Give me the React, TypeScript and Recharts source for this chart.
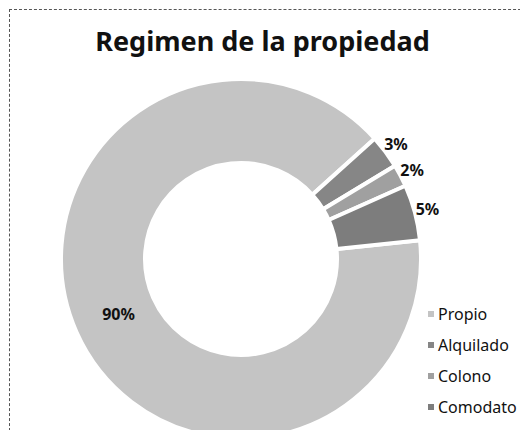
import React from 'react';
import { PieChart, Pie, Cell, Legend } from 'recharts';

const categories = ['Propio', 'Alquilado', 'Colono', 'Comodato'];
const shares = [90, 3, 2, 5];
const labels = ['90%', '3%', '2%', '5%'];
const COLORS = ['#c4c4c4', '#868686', '#a0a0a0', '#7d7d7d'];

const data = categories.map((name, i) => ({ name, value: shares[i], label: labels[i] }));

const RAD = Math.PI / 180;

const renderLabel = (props: any) => {
  const { cx, cy, midAngle, outerRadius, innerRadius, index } = props;
  const r = index === 0 ? (innerRadius + outerRadius) / 2 - 4 : outerRadius + 13;
  const x = cx + r * Math.cos(-midAngle * RAD);
  const y = cy + r * Math.sin(-midAngle * RAD);
  return (
    <text x={x} y={y} textAnchor="middle" dominantBaseline="central" fontSize={16} fontWeight={700} fill="#111">
      {data[index].label}
    </text>
  );
};

const renderLegend = () => (
  <div>
    {categories.map((name, i) => (
      <div key={name} style={{ display: 'flex', alignItems: 'center', height: 31 }}>
        <span style={{ width: 6, height: 6, background: COLORS[i], marginRight: 4, display: 'inline-block' }}></span>
        <span style={{ fontSize: 16, color: '#111' }}>{name}</span>
      </div>
    ))}
  </div>
);

export default function App() {
  return (
    <div style={{ position: 'absolute', left: 0, top: 0, width: 520, height: 430, background: '#fff', overflow: 'hidden', fontFamily: '"Noto Sans", sans-serif' }}>
      <div style={{ position: 'absolute', left: 9, top: 9, width: 530, height: 440, border: '1px dashed #555' }}></div>
      <div style={{ position: 'absolute', left: 0, top: 22, width: 525, textAlign: 'center', fontSize: 27, fontWeight: 700, color: '#111' }}>
        Regimen de la propiedad
      </div>
      <PieChart width={520} height={430} style={{ position: 'absolute', left: 0, top: 0 }}>
        <Pie
          data={data}
          dataKey="value"
          nameKey="name"
          cx={236}
          cy={254}
          innerRadius={96}
          outerRadius={180}
          startAngle={6}
          endAngle={-354}
          stroke="#fff"
          strokeWidth={4}
          label={renderLabel}
          labelLine={false}
          isAnimationActive={false}
        >
          {data.map((d, i) => (
            <Cell key={d.name} fill={COLORS[i]} />
          ))}
        </Pie>
        <Legend
          layout="vertical"
          content={renderLegend}
          wrapperStyle={{ position: 'absolute', left: 428, top: 298, width: 100 }}
        />
      </PieChart>
    </div>
  );
}
